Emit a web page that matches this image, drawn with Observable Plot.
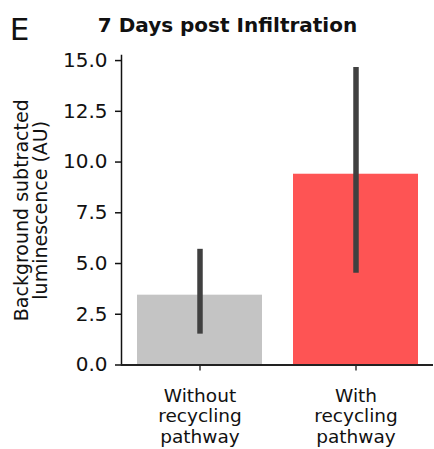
<!DOCTYPE html>
<html>
<head>
<meta charset="utf-8">
<script src="https://cdn.jsdelivr.net/npm/d3@7"></script>
<script src="https://cdn.jsdelivr.net/npm/@observablehq/plot@0.6"></script>
<style>
  html, body { margin: 0; padding: 0; background: #fff; }
  #chart svg { display: block; }
</style>
</head>
<body>
<div id="chart"></div>
<script>
const categories = ["Without\nrecycling\npathway", "With\nrecycling\npathway"];
const means = [3.44, 9.40];
const errLow = [1.52, 4.52];
const errHigh = [5.70, 14.66];
const barColors = ["#c4c4c4", "#fe5454"];
const yTicks = [0, 2.5, 5, 7.5, 10, 12.5, 15];
const title = "7 Days post Infiltration";
const panelLetter = "E";
const yLabel = "Background subtracted\nluminescence (AU)";

const data = categories.map((c, i) => ({
  cat: c, mean: means[i], lo: errLow[i], hi: errHigh[i], color: barColors[i]
}));

const font = "DejaVu Sans, Verdana, sans-serif";

const chart = Plot.plot({
  width: 434,
  height: 449,
  marginLeft: 121,
  marginRight: 1,
  marginTop: 55,
  marginBottom: 84.5,
  style: { fontFamily: font, fontSize: "19px", color: "#111", background: "#fff" },
  x: { domain: categories, paddingInner: 0.2, paddingOuter: 0.1 },
  y: { domain: [0, 15.25] },
  marks: [
    Plot.barY(data, { x: "cat", y: "mean", fill: "color" }),
    Plot.ruleX(data, { x: "cat", y1: "lo", y2: "hi", stroke: "#404040", strokeWidth: 5.5 }),
    Plot.axisY({ ticks: yTicks, tickFormat: d3.format(".1f"), tickSize: 6, tickPadding: 8, label: null, fontSize: 20, stroke: "#111", strokeWidth: 1.5 }),
    Plot.axisX({ tickSize: 6, tickPadding: 17, label: null, fontSize: 18.5, lineHeight: 1.09, stroke: "#333", strokeWidth: 1.5 }),
    Plot.frame({ anchor: "left", stroke: "#111", strokeWidth: 1.5 }),
    Plot.ruleY([0], { stroke: "#222", strokeWidth: 1.8 }),
    Plot.text([title], { frameAnchor: "top-left", dx: 106, dy: -30, textAnchor: "middle", lineAnchor: "middle", fontWeight: "bold", fontSize: 20, fill: "#111" }),
    Plot.text([panelLetter], { frameAnchor: "top-left", dx: -102, dy: -25, textAnchor: "middle", lineAnchor: "middle", fontSize: 31, fill: "#111" }),
    Plot.text([yLabel], { frameAnchor: "left", dx: -90, rotate: -90, textAnchor: "middle", lineAnchor: "middle", fontSize: 19, lineHeight: 1.0, fill: "#111" })
  ]
});

document.getElementById("chart").appendChild(chart);
</script>
</body>
</html>
